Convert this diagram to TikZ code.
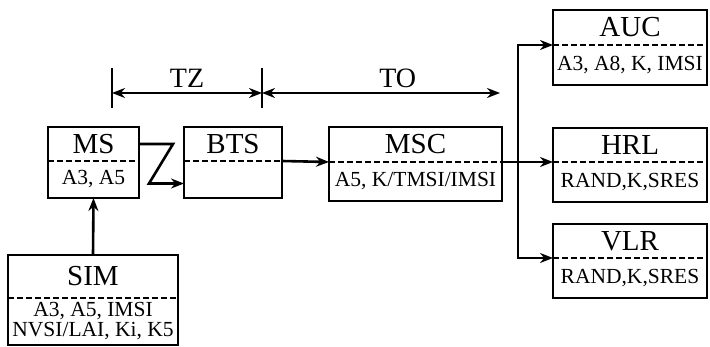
\documentclass[tikz,border=0pt]{standalone}
\usepackage{fontspec}
\setmainfont{Liberation Serif}
\usetikzlibrary{calc,positioning,arrows.meta}
\tikzset{
  head/.style={anchor=north west,inner sep=0pt,outer sep=0pt,minimum width=#1,font=\fontsize{29}{31}\selectfont},
  body/.style={inner sep=0pt,outer sep=0pt,minimum width=#1,align=center,font=\fontsize{21.5}{23}\selectfont},
  frame/.style={line width=2.6pt},
  divider/.style={line width=2.6pt,dash pattern=on 6pt off 3pt},
  flow/.style={-{Stealth[length=13pt,width=10pt]},line width=2.6pt},
  flow2/.style={{Stealth[length=13pt,width=10pt]}-{Stealth[length=13pt,width=10pt]},line width=2.6pt},
}

\begin{document}
\begin{tikzpicture}[x=1pt,y=-1pt]
\useasboundingbox (0,0) rectangle (710,347);

% mobile side
\node[head=91pt,minimum height=34pt] (ms) at (48,127) {MS};
\node[body=91pt,minimum height=37pt,below=0pt of ms] (msb) {A3, A5};
\node[head=170pt,minimum height=43pt] (sim) at (8,255) {SIM};
\node[body=170pt,minimum height=47pt,below=0pt of sim] (simb) {A3, A5, IMSI\\[-3pt]NVSI/LAI, Ki, K5};
\node[head=98pt,minimum height=34pt] (bts) at (184,127) {BTS};
\node[body=98pt,minimum height=37pt,below=0pt of bts] (btsb) {};

% network side
\node[head=173pt,minimum height=35pt] (msc) at (329,127) {MSC};
\node[body=173pt,minimum height=39pt,below=0pt of msc] (mscb) {A5, K/TMSI/IMSI};
\node[head=154pt,minimum height=35pt] (auc) at (553,10) {AUC};
\node[body=154pt,minimum height=40pt,below=0pt of auc] (aucb) {A3, A8, K, IMSI};
\node[head=154pt,minimum height=34pt] (hrl) at (553,128) {HRL};
\node[body=154pt,minimum height=40pt,below=0pt of hrl] (hrlb) {RAND,K,SRES};
\node[head=154pt,minimum height=34pt] (vlr) at (553,224) {VLR};
\node[body=154pt,minimum height=40pt,below=0pt of vlr] (vlrb) {RAND,K,SRES};

\foreach \b in {ms,sim,bts,msc,auc,hrl,vlr}{
  \draw[frame] (\b.north west) rectangle (\b b.south east);
  \draw[divider] (\b.south west) -- (\b.south east);
}

% zones
\coordinate (tz1) at (112,93);
\coordinate (tz2) at (262,93);
\coordinate (to2) at (500,93);
\draw[frame] ($(tz1)+(0,-25)$) -- ($(tz1)+(0,15)$);
\draw[frame] ($(tz2)+(0,-25)$) -- ($(tz2)+(0,15)$);
\draw[flow2] (tz1) -- (tz2) node[midway,above=1pt,font=\fontsize{28}{30}\selectfont] {TZ};
\draw[flow2] (tz2) -- (to2) node[pos=0.57,above=1pt,font=\fontsize{28}{30}\selectfont] {TO};

% links
\draw[flow] (sim.north) -- (msb.south);
\coordinate (z1) at ($(ms.east)+(34,0)$);
\coordinate (z2) at ($(btsb.west)+(-35,4)$);
\draw[flow] (ms.east) -- (z1) -- (z2) -- ($(btsb.west)+(0,4)$);
\draw[flow] (bts.south east) -- (msc.south west);
\coordinate (br) at (518,162);
\draw[flow] (msc.south east) -- (hrl.south west);
\draw[flow] (br) |- (auc.south west);
\draw[flow] (br) |- (vlr.south west);
\end{tikzpicture}
\end{document}
